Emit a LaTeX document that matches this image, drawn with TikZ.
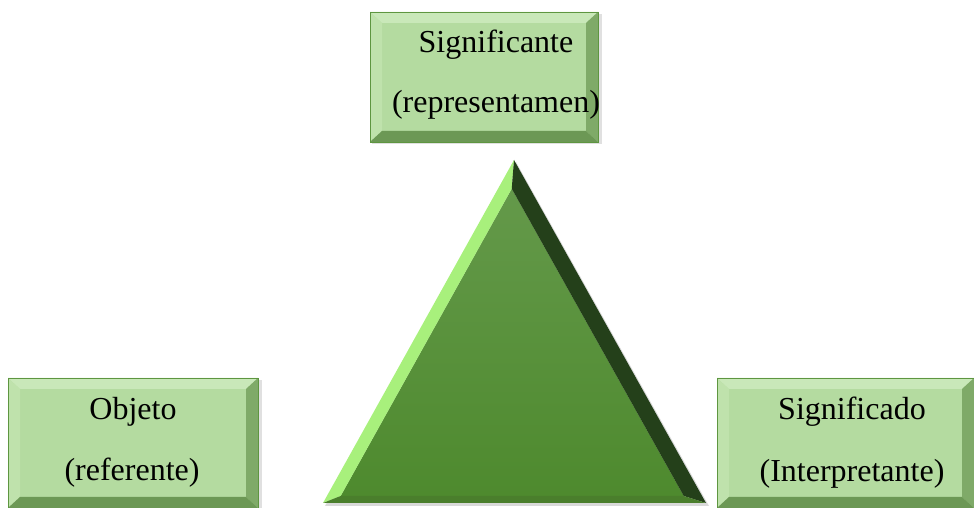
\documentclass[tikz,border=0pt]{standalone}
\usepackage{fontspec}
\setmainfont{Liberation Serif}
\usetikzlibrary{calc}
\definecolor{boxface}{HTML}{B4DBA0}
\definecolor{boxtop}{HTML}{C9E8B9}
\definecolor{boxleft}{HTML}{BFE2AC}
\definecolor{boxright}{HTML}{7FAA68}
\definecolor{boxbot}{HTML}{6C9855}
\definecolor{boxrim}{HTML}{5E9640}
\definecolor{trifacetop}{HTML}{64994A}
\definecolor{trifacebot}{HTML}{4E8A2E}
\definecolor{trilight}{HTML}{A8F07C}
\definecolor{tridark}{HTML}{24401A}
\definecolor{tribot}{HTML}{4A7E2C}
\tikzset{
  bevelbox/.style={
    fill=boxface, draw=boxrim, line width=0.8pt, inner sep=0pt,
    path picture={
      \coordinate (nw) at (path picture bounding box.north west);
      \coordinate (ne) at (path picture bounding box.north east);
      \coordinate (sw) at (path picture bounding box.south west);
      \coordinate (se) at (path picture bounding box.south east);
      \fill[boxtop] (nw) -- (ne) -- ($(ne)+(-12pt,-11pt)$) -- ($(nw)+(12pt,-11pt)$) -- cycle;
      \fill[boxleft] (nw) -- ($(nw)+(12pt,-11pt)$) -- ($(sw)+(12pt,11pt)$) -- (sw) -- cycle;
      \fill[boxright] (ne) -- ($(ne)+(-12pt,-11pt)$) -- ($(se)+(-12pt,11pt)$) -- (se) -- cycle;
      \fill[boxbot] (sw) -- ($(sw)+(12pt,11pt)$) -- ($(se)+(-12pt,11pt)$) -- (se) -- cycle;
    }
  },
  boxtext/.style={font=\fontsize{32}{38}\selectfont, inner sep=0pt, anchor=base},
  shadowfill/.style={fill=black, opacity=0.12}
}
\begin{document}
\begin{tikzpicture}[x=1pt,y=1pt]
\useasboundingbox (0,0) rectangle (974,508);
% boxes
\fill[shadowfill] (372,364) rectangle (602,494);
\node[bevelbox, minimum width=228pt, minimum height=130pt] (sig) at (484,431) {};
\node[boxtext] (sig1) at ($(sig.center)+(12,24)$) {Significante};
\node[boxtext] (sig2) at ($(sig.center)+(12,-36)$) {(representamen)};
\fill[shadowfill] (10,-2) rectangle (262,128);
\node[bevelbox, minimum width=250pt, minimum height=130pt] (obj) at (133,65) {};
\node[boxtext] (obj1) at ($(obj.center)+(0,23)$) {Objeto};
\node[boxtext] (obj2) at ($(obj.center)+(-1,-38)$) {(referente)};
\node[bevelbox, minimum width=257pt, minimum height=130pt] (int) at (845.5,65) {};
\node[boxtext] (int1) at ($(int.center)+(6.5,23)$) {Significado};
\node[boxtext] (int2) at ($(int.center)+(6.5,-39)$) {(Interpretante)};
% triangle
\coordinate (apex) at (514,348);
\coordinate (bl) at (323,5);
\coordinate (br) at (706,5);
\coordinate (l1) at ($(bl)!12pt!-90:(apex)$);
\coordinate (l2) at ($(apex)!12pt!90:(bl)$);
\coordinate (r1) at ($(br)!16pt!90:(apex)$);
\coordinate (r2) at ($(apex)!16pt!-90:(br)$);
\coordinate (b1) at (0,12);
\coordinate (b2) at (974,12);
\coordinate (iapex) at (intersection of l1--l2 and r1--r2);
\coordinate (ibl) at (intersection of l1--l2 and b1--b2);
\coordinate (ibr) at (intersection of r1--r2 and b1--b2);
\fill[black, opacity=0.15] ($(bl)+(2,-3)$) -- ($(br)+(3,-3)$) -- ($(apex)+(2,-2)$) -- cycle;
\shade[top color=trifacetop, bottom color=trifacebot] (iapex) -- (ibl) -- (ibr) -- cycle;
\fill[trilight] (apex) -- (iapex) -- (ibl) -- (bl) -- cycle;
\fill[tridark] (apex) -- (br) -- (ibr) -- (iapex) -- cycle;
\fill[tribot] (bl) -- (ibl) -- (ibr) -- (br) -- cycle;
\end{tikzpicture}
\end{document}
